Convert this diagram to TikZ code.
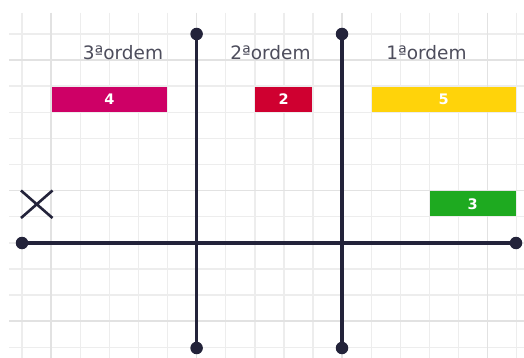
\documentclass[tikz,border=0pt]{standalone}
\usepackage{fontspec}
\setmainfont{DejaVu Sans}
\definecolor{axis}{HTML}{23233A}
\definecolor{labelgray}{HTML}{4D4D5C}
\definecolor{cfour}{HTML}{CE0066}
\definecolor{ctwo}{HTML}{CF0030}
\definecolor{cfive}{HTML}{FFD30A}
\definecolor{cthree}{HTML}{1EAA20}
\definecolor{gridminor}{HTML}{EDEDED}
\definecolor{gridmajor}{HTML}{E2E2E2}
\begin{document}
\begin{tikzpicture}[x=1pt,y=-1pt,
  box/.style={draw=none, inner sep=0pt, minimum height=24.5pt, text=white, font=\bfseries\fontsize{14.5}{14.5}\selectfont},
  lbl/.style={text=labelgray, inner sep=0pt, anchor=base, font=\fontsize{18.5}{19}\selectfont},
  dot/.style={circle, fill=axis, inner sep=0pt, minimum size=12.5pt},
  axisline/.style={draw=axis, line width=3.3pt},
  minorgrid/.style={draw=gridminor, line width=1.4pt},
  majorgrid/.style={draw=gridmajor, line width=1.4pt}]
\useasboundingbox (0,0) rectangle (524,358);
\fill[white] (0,0) rectangle (524,358);
% grid
\foreach \k in {0,...,17} {
  \pgfmathsetmacro\xx{22+29.1*\k}
  \draw[minorgrid] (\xx,13) -- (\xx,358);
}
\foreach \k in {0,...,12} {
  \pgfmathsetmacro\yy{34+26.1*\k}
  \draw[minorgrid] (9,\yy) -- (524,\yy);
}
\foreach \k in {1,6,11,16} {
  \pgfmathsetmacro\xx{22+29.1*\k}
  \draw[majorgrid] (\xx,13) -- (\xx,358);
}
\foreach \k in {1,6,11} {
  \pgfmathsetmacro\yy{34+26.1*\k}
  \draw[majorgrid] (9,\yy) -- (524,\yy);
}
% labels
\node[lbl] (l3) at (123,60) {3ªordem};
\node[lbl] (l2) at (270.5,60) {2ªordem};
\node[lbl] (l1) at (426.5,60) {1ªordem};
% boxes
\node[box, fill=cfour, minimum width=115pt] (b4) at (109.5,99.5) {4};
\node[box, fill=ctwo, minimum width=56.7pt] (b2) at (283.7,99.5) {2};
\node[box, fill=cfive, minimum width=144pt] (b5) at (443.7,99.5) {5};
\node[box, fill=cthree, minimum width=86pt, minimum height=25pt] (b3) at (472.7,203.8) {3};
% dots
\node[dot] (vt1) at (196.6,34) {};
\node[dot] (vb1) at (196.6,348) {};
\node[dot] (vt2) at (342,34) {};
\node[dot] (vb2) at (342,348) {};
\node[dot] (hl) at (22,243) {};
\node[dot] (hr) at (516,243) {};
% axes
\draw[axisline] (vt1.center) -- (vb1.center);
\draw[axisline] (vt2.center) -- (vb2.center);
\draw[axisline] (hl.center) -- (hr.center);
% cross
\coordinate (xa) at (21,190.5);
\coordinate (xb) at (52.5,218);
\coordinate (xc) at (52.5,190.5);
\coordinate (xd) at (21,218);
\draw[draw=axis, line width=2.6pt] (xa) -- (xb) (xc) -- (xd);
\end{tikzpicture}
\end{document}
